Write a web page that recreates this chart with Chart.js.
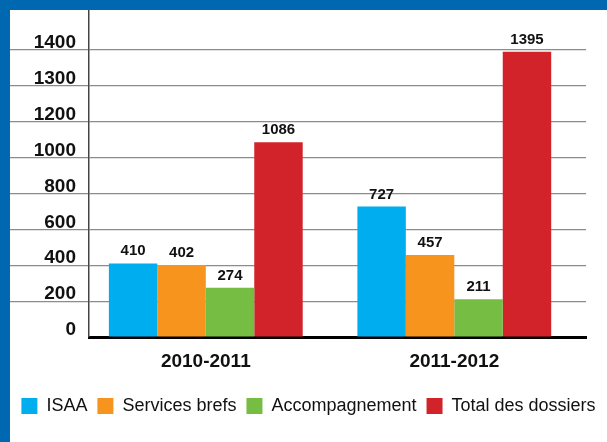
<!DOCTYPE html>
<html>
<head>
<meta charset="utf-8">
<script src="https://cdn.jsdelivr.net/npm/chart.js@4/dist/chart.umd.min.js"></script>
<style>
  html, body { margin: 0; padding: 0; }
  body { width: 607px; height: 442px; background: #0067b1; overflow: hidden; position: relative; }
  #wrap { position: absolute; left: 10px; top: 10px; width: 597px; height: 432px; background: #fff; }
</style>
</head>
<body>
<div id="wrap"><canvas id="chart" width="597" height="432"></canvas></div>
<script>
const categories = ['2010-2011', '2011-2012'];
const isaa = [410, 727];
const servicesBrefs = [402, 457];
const accompagnement = [274, 211];
const totalDossiers = [1086, 1395];
const yTicks = [0, 200, 400, 600, 800, 1000, 1200, 1300, 1400];

const seriesNames = ['ISAA', 'Services brefs', 'Accompagnement', 'Total des dossiers'];
const series = [isaa, servicesBrefs, accompagnement, totalDossiers];
const colors = ['#00aeef', '#f7941d', '#76bd43', '#d2232a'];

const FONT = "'Liberation Sans', Arial, sans-serif";
const HEADROOM = 1.115; // blank space above the top gridline, in gridline steps
const GRID = 'rgba(0,0,0,0.45)';

// y axis whose gridlines are evenly spaced whatever the tick values
class StepScale extends Chart.LinearScale {
  buildTicks() {
    return yTicks.map(v => ({ value: v }));
  }
  stepPos(value) {
    if (value <= yTicks[0]) return 0;
    for (let i = 1; i < yTicks.length; i++) {
      if (value <= yTicks[i]) return i - 1 + (value - yTicks[i - 1]) / (yTicks[i] - yTicks[i - 1]);
    }
    return yTicks.length - 1;
  }
  getPixelForValue(value) {
    return this.getPixelForDecimal(this.stepPos(value) / (yTicks.length - 1 + HEADROOM));
  }
  getValueForPixel(pixel) {
    const pos = this.getDecimalForPixel(pixel) * (yTicks.length - 1 + HEADROOM);
    const i = Math.min(Math.max(Math.floor(pos), 0), yTicks.length - 2);
    return yTicks[i] + (pos - i) * (yTicks[i + 1] - yTicks[i]);
  }
}
StepScale.id = 'steps';
StepScale.defaults = {};
Chart.register(StepScale);

// numbers above the bars
const valueLabels = {
  id: 'valueLabels',
  afterDraw(chart) {
    const ctx = chart.ctx;
    ctx.save();
    ctx.font = 'bold 15px ' + FONT;
    ctx.fillStyle = '#111';
    ctx.textAlign = 'center';
    ctx.textBaseline = 'alphabetic';
    chart.data.datasets.forEach((ds, i) => {
      chart.getDatasetMeta(i).data.forEach((bar, j) => {
        ctx.fillText(String(ds.data[j].y), bar.x, bar.y - 8);
      });
    });
    ctx.restore();
  }
};

new Chart(document.getElementById('chart'), {
  type: 'bar',
  data: {
    datasets: series.map((vals, k) => ({
      label: seriesNames[k],
      data: vals.map((v, i) => ({ x: i, y: v })),
      backgroundColor: colors[k],
      categoryPercentage: 0.78,
      barPercentage: 1
    }))
  },
  options: {
    responsive: false,
    animation: false,
    events: [],
    layout: { padding: { top: 0, left: 0, right: 0, bottom: 17 } },
    scales: {
      x: {
        type: 'linear',
        min: -0.47,
        max: 1.53,
        offset: false,
        bounds: 'data',
        z: 1,
        afterBuildTicks: s => { s.ticks = categories.map((c, i) => ({ value: i })); },
        afterFit: s => { s.height = 50; s.paddingLeft = 0; s.paddingRight = 0; },
        grid: { display: false, drawTicks: false },
        border: { display: true, color: '#000', width: 3 },
        ticks: {
          callback: v => categories[v],
          font: { family: FONT, size: 19, weight: 'bold' },
          color: '#111',
          padding: 13,
          autoSkip: false,
          maxRotation: 0
        }
      },
      y: {
        type: 'steps',
        min: 0,
        max: 1400,
        z: 1,
        afterFit: s => { s.width = 79; s.paddingTop = 0; s.paddingBottom = 0; },
        grid: {
          color: c => (c.tick && c.tick.value === 0 ? 'rgba(0,0,0,0)' : GRID),
          lineWidth: 1.2,
          tickLength: 79
        },
        border: { color: '#444', width: 1.5 },
        ticks: {
          callback: v => String(v),
          font: { family: FONT, size: 19, weight: 'bold' },
          color: '#111',
          padding: -66,
          labelOffset: -7,
          autoSkip: false
        }
      },
      // empty right margin so the legend can use the whole width
      yRight: {
        type: 'linear',
        position: 'right',
        grid: { display: false, drawTicks: false },
        border: { display: false },
        ticks: { display: false },
        afterFit: s => { s.width = 21; }
      }
    },
    plugins: {
      legend: {
        position: 'bottom',
        labels: {
          boxWidth: 16,
          boxHeight: 16,
          padding: 10,
          color: '#111',
          font: { family: FONT, size: 18 }
        }
      },
      tooltip: { enabled: false }
    }
  },
  plugins: [valueLabels]
});
</script>
</body>
</html>
